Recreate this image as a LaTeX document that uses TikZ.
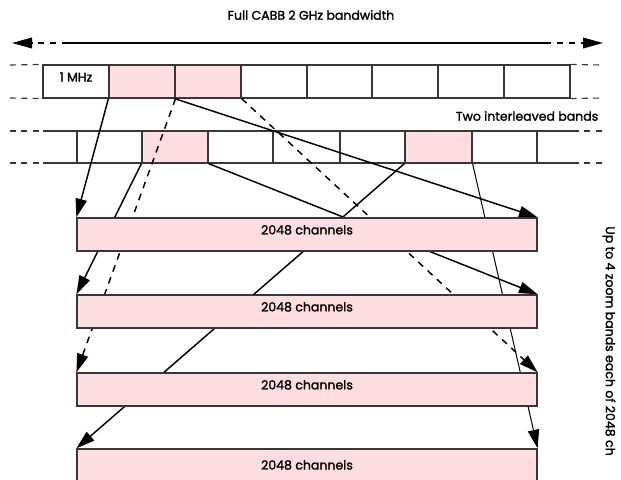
\documentclass[tikz,border=0pt]{standalone}
\usepackage{fontspec}
\setmainfont{Poppins}[FakeBold=1.6]
\usetikzlibrary{arrows.meta,fit}
\definecolor{bandpink}{RGB}{255,221,224}
\definecolor{edgegray}{RGB}{55,55,55}
\pgfdeclarelayer{lines}
\pgfdeclarelayer{bands}
\pgfsetlayers{main,lines,bands}
\begin{document}
\begin{tikzpicture}[x=0.75pt,y=-0.75pt,
  font=\fontsize{9.4pt}{11pt}\selectfont,
  cell/.style={draw=edgegray,line width=0.85pt,inner sep=0pt,fill=white},
  pinkcell/.style={cell,fill=bandpink},
  band/.style={draw=edgegray,line width=0.95pt,inner sep=0pt,fill=bandpink},
  rowline/.style={draw=edgegray,line width=0.85pt},
  rowdash/.style={draw=edgegray,line width=0.85pt,dash pattern=on 4.5pt off 4pt},
  conn/.style={draw=black,line width=1.1pt,-{Triangle[length=14pt,width=8.5pt]}},
  dconn/.style={conn,dash pattern=on 5pt off 4.5pt},
  plain/.style={draw=black,line width=1.1pt}]
\useasboundingbox (0,0) rectangle (621,479);

% title and full-band arrow
\node (title) at (311,15) {Full CABB 2 GHz bandwidth};
\coordinate (aL) at (12,43);
\coordinate (aL2) at (68,43);
\coordinate (aR2) at (545,43);
\coordinate (aR) at (603,43);
\draw[line width=1.1pt,dash pattern=on 4.5pt off 4.5pt,-{Triangle[length=15pt,width=8pt]}] (aL2) -- (aL);
\draw[line width=1.1pt] (aL2) -- (aR2);
\draw[line width=1.1pt,dash pattern=on 4.5pt off 4.5pt,-{Triangle[length=15pt,width=8pt]}] (aR2) -- (aR);

% row 1
\node[cell,fit={(43,65)(109,98)}] (r1a) {1 MHz};
\node[pinkcell,fit={(109,65)(175,98)}] (r1b) {};
\node[pinkcell,fit={(175,65)(241,98)}] (r1c) {};
\node[cell,fit={(241,65)(307,98)}] (r1d) {};
\node[cell,fit={(307,65)(372,98)}] (r1e) {};
\node[cell,fit={(372,65)(438,98)}] (r1f) {};
\node[cell,fit={(438,65)(504,98)}] (r1g) {};
\node[cell,fit={(504,65)(570,98)}] (r1h) {};
\coordinate (r1lt) at (10,65);
\coordinate (r1lb) at (10,98);
\coordinate (r1rt) at (602,65);
\coordinate (r1rb) at (602,98);
\draw[rowdash] (r1lt) -- (r1a.north west);
\draw[rowdash] (r1lb) -- (r1a.south west);
\draw[rowdash] (r1h.north east) -- (r1rt);
\draw[rowdash] (r1h.south east) -- (r1rb);

\node[anchor=east] (twob) at (603,116) {Two interleaved bands};

% row 2
\coordinate (r2st) at (43,131);
\coordinate (r2sb) at (43,163);
\coordinate (r2et) at (573,131);
\coordinate (r2eb) at (573,163);
\coordinate (r2lt) at (10,131);
\coordinate (r2lb) at (10,163);
\coordinate (r2rt) at (602,131);
\coordinate (r2rb) at (602,163);
\draw[rowline] (r2st) -- (r2et);
\draw[rowline] (r2sb) -- (r2eb);
\draw[rowdash] (r2lt) -- (r2st);
\draw[rowdash] (r2lb) -- (r2sb);
\draw[rowdash] (r2et) -- (r2rt);
\draw[rowdash] (r2eb) -- (r2rb);
\node[cell,fit={(77,131)(142,163)}] (r2a) {};
\node[pinkcell,fit={(142,131)(208,163)}] (r2b) {};
\node[cell,fit={(208,131)(273,163)}] (r2c) {};
\node[cell,fit={(273,131)(340,163)}] (r2d) {};
\node[cell,fit={(340,131)(405,163)}] (r2e) {};
\node[pinkcell,fit={(405,131)(472,163)}] (r2f) {};
\node[cell,fit={(472,131)(537,163)}] (r2g) {};

% zoom bands
\begin{pgfonlayer}{bands}
\node[band,fit={(77,218)(537,251)}] (z1) {2048 channels};
\node[band,fit={(77,295)(537,328)}] (z2) {2048 channels};
\node[band,fit={(77,373)(537,406)}] (z3) {2048 channels};
\node[band,fit={(77,449)(537,482)}] (z4) {};
\node (z4t) at (307,465) {2048 channels};
\end{pgfonlayer}

\node[rotate=-90] (side) at (609,341) {Up to 4 zoom bands each of 2048 ch};

% connectors
\begin{pgfonlayer}{lines}
\draw[conn] (r1b.south west) -- (z1.north west);
\draw[dconn] (r1b.south east) -- (z3.north west);
\draw[conn] (r1c.south west) -- (z1.north east);
\draw[dconn] (r1c.south east) -- (z3.north east);
\draw[conn] (r2b.south west) -- (z2.north west);
\draw[conn] (r2b.south east) -- (z2.north east);
\draw[conn] (r2f.south west) -- (z4.north west);
\draw[conn,line width=0.75pt] (r2f.south east) -- (z4.north east);
\end{pgfonlayer}
\end{tikzpicture}
\end{document}
